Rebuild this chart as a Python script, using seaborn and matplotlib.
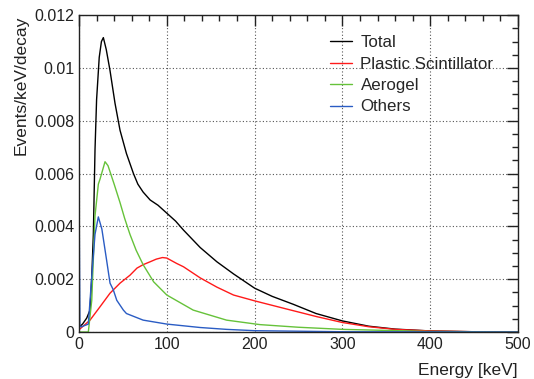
# Energy deposit spectra by detector component
import pandas as pd
import seaborn as sns
import matplotlib.pyplot as plt
from matplotlib.ticker import MultipleLocator

# ---------------------------------------------------------
# Values (keV, events/keV/decay)
# ---------------------------------------------------------
total_x = [0.5, 4, 8.8, 12.5, 14.5, 16.3, 18.2, 20, 23, 25.5, 27.7, 31, 35.3, 41, 46.7,
           54, 62, 67, 73, 81, 90, 100, 110, 119, 138, 157, 176, 200, 220, 244, 270, 300,
           330, 360, 400, 450, 500]
total_y = [0.0002, 0.0003, 0.00053, 0.00083, 0.0021, 0.0037, 0.0069, 0.0088, 0.0104, 0.0110,
           0.01115, 0.0107, 0.0099, 0.00866, 0.00764, 0.00676, 0.0060, 0.0056, 0.0053,
           0.0050, 0.0048, 0.0045, 0.0042, 0.00386, 0.0032, 0.00266, 0.0022, 0.00166,
           0.00135, 0.00105, 0.0007, 0.00042, 0.00022, 0.00011, 0.00004, 0.00001, 0.0]

plastic_x = [0.5, 12.5, 24, 35.3, 46.7, 58, 66, 73, 81, 88, 95, 100, 111, 119, 138, 157,
             176, 200, 233, 271, 300, 330, 360, 400, 450, 500]
plastic_y = [0.0001, 0.00045, 0.00096, 0.00147, 0.00185, 0.00215, 0.00242, 0.00255,
             0.00266, 0.00276, 0.00282, 0.0028, 0.0026, 0.00247, 0.00205, 0.00170, 0.0014,
             0.00118, 0.0009, 0.00058, 0.00036, 0.0002, 0.0001, 0.00004, 0.00001, 0.0]

aerogel_x = [0.5, 10.6, 14.5, 18.2, 22, 24, 29.6, 33, 36, 40, 46.7, 52, 58, 65, 73, 85,
             100, 130, 168, 206, 250, 300, 400, 500]
aerogel_y = [0.0, 0.0, 0.0012, 0.0044, 0.0056, 0.0058, 0.00645, 0.0063, 0.0060, 0.0056,
             0.0049, 0.0043, 0.0037, 0.0031, 0.00255, 0.0019, 0.0014, 0.00083, 0.00045,
             0.00028, 0.00018, 0.0001, 0.00002, 0.0]

others_x = [0.0, 1.0, 3, 10.6, 14.5, 18.2, 22, 26, 31.5, 35.3, 39, 43, 50.5, 54, 73,
            100, 138, 168, 200, 300, 500]
others_y = [0.0055, 0.0002, 0.0002, 0.0003, 0.0021, 0.0037, 0.00436, 0.0039, 0.0027,
            0.00185, 0.0016, 0.0012, 0.00083, 0.0007, 0.00045, 0.0003, 0.00017, 0.0001,
            0.00005, 0.00001, 0.0]

labels = ["Total", "Plastic Scintillator", "Aerogel", "Others"]
colors = ["#000000", "#ff1a1a", "#66c23a", "#2a5cc4"]

frames = []
for name, xs, ys in zip(labels,
                        [total_x, plastic_x, aerogel_x, others_x],
                        [total_y, plastic_y, aerogel_y, others_y]):
    frames.append(pd.DataFrame({"energy": xs, "rate": ys, "component": name}))
df = pd.concat(frames, ignore_index=True)

# ---------------------------------------------------------
# Plot
# ---------------------------------------------------------
sns.set_style("white")
plt.rcParams["font.family"] = ["Liberation Sans", "DejaVu Sans"]

fig = plt.figure(figsize=(5.34, 3.79), dpi=100)
ax = fig.add_axes([0.148, 0.124, 0.822, 0.836])

sns.lineplot(
    data=df,
    x="energy",
    y="rate",
    hue="component",
    hue_order=labels,
    palette=colors,
    estimator=None,
    linewidth=1.0,
    ax=ax,
)

ax.set_xlim(0, 500)
ax.set_ylim(0, 0.012)
ax.xaxis.set_major_locator(MultipleLocator(100))
ax.xaxis.set_minor_locator(MultipleLocator(20))
ax.yaxis.set_minor_locator(MultipleLocator(0.0005))
ax.set_yticks([0, 0.002, 0.004, 0.006, 0.008, 0.01, 0.012])
ax.set_yticklabels(["0", "0.002", "0.004", "0.006", "0.008", "0.01", "0.012"])

ax.tick_params(which="both", direction="in", top=True, right=True, labelsize=11.5,
               colors="#222222")
ax.tick_params(which="major", length=8, width=1)
ax.tick_params(which="minor", length=4, width=1)
for side in ax.spines.values():
    side.set_color("#222222")
    side.set_linewidth(1.0)

ax.grid(True, which="major", linestyle=(0, (1, 2)), color="#555555", linewidth=0.8)

ax.set_xlabel("Energy [keV]", loc="right", fontsize=12.5, color="#222222", labelpad=8)
ax.set_ylabel("Events/keV/decay", loc="top", fontsize=12.5, color="#222222", labelpad=4)

ax.legend(
    loc="upper left",
    bbox_to_anchor=(0.537, 0.985),
    frameon=False,
    fontsize=12.2,
    handlelength=1.3,
    handletextpad=0.5,
    labelspacing=0.38,
)

fig.savefig("out.png", dpi=100)
